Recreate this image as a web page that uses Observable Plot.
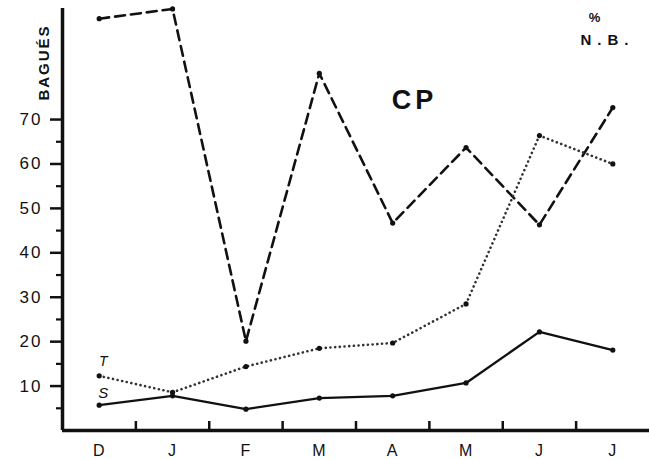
<!DOCTYPE html>
<html>
<head>
<meta charset="utf-8">
<script src="https://cdn.jsdelivr.net/npm/d3@7"></script>
<script src="https://cdn.jsdelivr.net/npm/@observablehq/plot@0.6"></script>
<style>
  html, body { margin: 0; padding: 0; background: #fff; }
  #chart svg { display: block; }
  g[aria-label="y-axis tick label"] text { letter-spacing: 2px; }
  g[aria-label="x-axis tick label"] text { letter-spacing: 1px; }
</style>
</head>
<body>
<div id="chart"></div>
<script>
// Months (Dec → Jul)
const months = ["D", "J", "F", "M", "A", "M", "J", "J"];
// Dashed series (N.B.)
const nbValues = [92.7, 94.9, 20.1, 80.4, 46.7, 63.7, 46.3, 72.7];
// Dotted series T
const tValues = [12.3, 8.6, 14.4, 18.5, 19.7, 28.5, 66.4, 60.0];
// Solid series S
const sValues = [5.7, 7.8, 4.8, 7.3, 7.8, 10.7, 22.2, 18.1];
// Axis ticks
const yTicks = [10, 20, 30, 40, 50, 60, 70];
const yMinorTicks = [5, 15, 25, 35, 45, 55, 65];
const xBoundaries = [0.5, 1.5, 2.5, 3.5, 4.5, 5.5, 6.5];

const rows = (vals) => vals.map((v, i) => ({i, v}));
const nb = rows(nbValues), tt = rows(tValues), ss = rows(sValues);

const font = "'Liberation Sans', Arial, sans-serif";

const chart = Plot.plot({
  width: 649,
  height: 459,
  marginLeft: 62,
  marginRight: 0,
  marginTop: 8,
  marginBottom: 29,
  x: {domain: [-0.5, 7.5], axis: null, label: null},
  y: {domain: [0, 95], axis: null, label: null},
  style: {fontFamily: font, background: "#fff", color: "#111"},
  marks: [
    Plot.axisY(yTicks, {tickSize: 12, tickPadding: 8, fontSize: 17, strokeWidth: 2.5, label: null}),
    Plot.axisY(yMinorTicks, {tickSize: 6, tickFormat: () => "", strokeWidth: 2.2, label: null}),
    Plot.axisX(months.map((_, i) => i), {tickSize: 0, tickPadding: 14, fontSize: 16, tickFormat: i => months[i], label: null}),
    Plot.ruleX(xBoundaries, {stroke: "#111", strokeWidth: 2.5, insetTop: 413}),
    Plot.ruleX([-0.5], {stroke: "#111", strokeWidth: 3.5}),
    Plot.ruleY([0], {stroke: "#111", strokeWidth: 3.5}),
    Plot.line(nb, {x: "i", y: "v", stroke: "#111", strokeWidth: 2.6, strokeDasharray: "10,6"}),
    Plot.line(tt, {x: "i", y: "v", stroke: "#333", strokeWidth: 2.6, strokeDasharray: "0.1,4.6", strokeLinecap: "round"}),
    Plot.line(ss, {x: "i", y: "v", stroke: "#111", strokeWidth: 2.3}),
    Plot.dot(nb, {x: "i", y: "v", r: 2.6, fill: "#111"}),
    Plot.dot(tt, {x: "i", y: "v", r: 2.6, fill: "#111"}),
    Plot.dot(ss, {x: "i", y: "v", r: 2.6, fill: "#111"}),
    Plot.text([tt[0]], {x: "i", y: "v", text: () => "T", dx: 4, dy: -14, fontSize: 14, fontStyle: "italic", fill: "#111"}),
    Plot.text([ss[0]], {x: "i", y: "v", text: () => "S", dx: 4, dy: -12, fontSize: 15, fontStyle: "italic", fill: "#111"}),
    Plot.text(["CP"], {frameAnchor: "top-left", textAnchor: "middle", lineAnchor: "middle", dx: 352, dy: 92, fontSize: 27, fontWeight: "bold", fill: "#111"}),
    Plot.text(["BAGUÉS"], {frameAnchor: "top-left", textAnchor: "middle", lineAnchor: "middle", dx: -18, dy: 54, rotate: -90, fontSize: 15, fontWeight: "bold", fill: "#111"}),
    Plot.text(["%"], {frameAnchor: "top-left", textAnchor: "middle", lineAnchor: "middle", dx: 532, dy: 9, fontSize: 13, fontWeight: "bold", fill: "#111"}),
    Plot.text(["N.B."], {frameAnchor: "top-left", textAnchor: "middle", lineAnchor: "middle", dx: 545, dy: 32, fontSize: 15, fontWeight: "bold", fill: "#111"})
  ]
});
document.getElementById("chart").appendChild(chart);
const styleText = (t, ls) => d3.select(chart).selectAll("text").filter(function() { return this.textContent === t; }).style("letter-spacing", ls);
styleText("CP", "4px");
styleText("N.B.", "6px");
styleText("BAGUÉS", "2px");
</script>
</body>
</html>
